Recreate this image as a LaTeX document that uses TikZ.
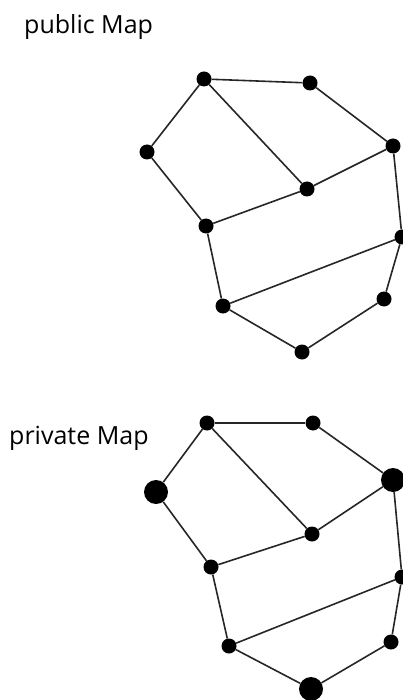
\documentclass[tikz,border=0pt]{standalone}
\usepackage{fontspec}
\setmainfont{Open Sans}
\usetikzlibrary{positioning}

\begin{document}
\begin{tikzpicture}[
    x=1pt, y=-1pt,
    % Node styles
    site/.style={
        circle,
        fill=black,
        inner sep=0pt,
        minimum size=15pt
    },
    hub/.style={
        site,
        minimum size=24pt
    },
    link/.style={
        line width=1.6pt,
        black!85
    },
    maplabel/.style={
        font=\fontsize{25}{28}\selectfont,
        anchor=west,
        inner sep=0pt
    }
]
\useasboundingbox (0,0) rectangle (403,700);

% --- Public map ---
\node[maplabel] (publbl) at (24,27) {public Map};

\node[site] (pa) at (204,79) {};
\node[site] (pb) at (310,83) {};
\node[site] (pc) at (393,146) {};
\node[site] (pd) at (147,152) {};
\node[site] (pe) at (307,189) {};
\node[site] (pf) at (206,226) {};
\node[site] (pg) at (402,237) {};
\node[site] (ph) at (223,306) {};
\node[site] (pi) at (384,299) {};
\node[site] (pj) at (302,352) {};

\draw[link] (pa) -- (pb);
\draw[link] (pb) -- (pc);
\draw[link] (pa) -- (pd);
\draw[link] (pa) -- (pe);
\draw[link] (pd) -- (pf);
\draw[link] (pe) -- (pc);
\draw[link] (pf) -- (pe);
\draw[link] (pf) -- (ph);
\draw[link] (pc) -- (pg);
\draw[link] (pg) -- (ph);
\draw[link] (pg) -- (pi);
\draw[link] (ph) -- (pj);
\draw[link] (pi) -- (pj);

% --- Private map ---
\node[maplabel] (prvlbl) at (9,438) {private Map};

\node[site] (qa) at (207,423) {};
\node[site] (qb) at (313,423) {};
\node[hub]  (qc) at (393,480) {};
\node[hub]  (qd) at (156,492) {};
\node[site] (qe) at (312,534) {};
\node[site] (qf) at (211,567) {};
\node[site] (qg) at (402,577) {};
\node[site] (qh) at (229,646) {};
\node[site] (qi) at (391,642) {};
\node[hub]  (qj) at (311,689) {};

\draw[link] (qa) -- (qb);
\draw[link] (qb) -- (qc);
\draw[link] (qa) -- (qd);
\draw[link] (qa) -- (qe);
\draw[link] (qd) -- (qf);
\draw[link] (qe) -- (qc);
\draw[link] (qf) -- (qe);
\draw[link] (qf) -- (qh);
\draw[link] (qc) -- (qg);
\draw[link] (qg) -- (qh);
\draw[link] (qg) -- (qi);
\draw[link] (qh) -- (qj);
\draw[link] (qi) -- (qj);

\end{tikzpicture}
\end{document}
